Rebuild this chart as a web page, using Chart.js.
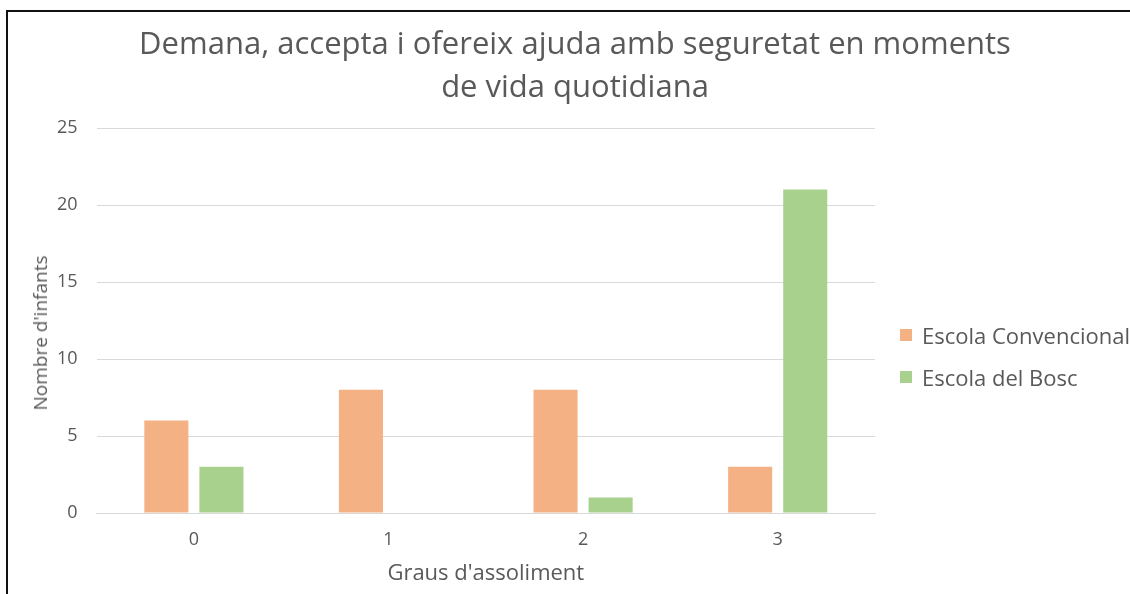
<!DOCTYPE html>
<html>
<head>
<meta charset="utf-8">
<script src="https://cdn.jsdelivr.net/npm/chart.js@4.4.1/dist/chart.umd.min.js"></script>
<style>
  html, body { margin: 0; padding: 0; background: #fff; }
  #wrap { position: relative; width: 1130px; height: 594px; overflow: hidden; }
  #frame { position: absolute; left: 6px; top: 10px; right: -4px; bottom: -4px;
           border-top: 2px solid #111; border-left: 2px solid #111; pointer-events: none; }
  #title { position: absolute; left: 20px; width: 1110px; top: 21px; text-align: center;
           font-family: "Open Sans", sans-serif; font-size: 31px; line-height: 43px; color: #595959; }
  #ytitle { position: absolute; left: 40px; top: 333px; width: 0; height: 0; }
  #ytitle span { position: absolute; transform: translate(-50%, -50%) rotate(-90deg); white-space: nowrap;
                 font-family: "Open Sans", sans-serif; font-size: 19px; line-height: 24px; color: #595959; }
  #legend { position: absolute; left: 900px; top: 314px; font-family: "Open Sans", sans-serif;
            font-size: 22px; color: #595959; }
  #legend div { display: flex; align-items: center; height: 42px; white-space: nowrap; }
  #legend span.box { width: 12px; height: 12px; margin-right: 10px; display: inline-block; }
  canvas { position: absolute; left: 0; top: 0; }
</style>
</head>
<body>
<div id="wrap">
  <canvas id="chart" width="1130" height="594"></canvas>
  <div id="title">Demana, accepta i ofereix ajuda amb seguretat en moments<br>de vida quotidiana</div>
  <div id="ytitle"><span>Nombre d'infants</span></div>
  <div id="legend"></div>
  <div id="frame"></div>
</div>
<script>
// data
const categories = ['0', '1', '2', '3'];
const convencional = [6, 8, 8, 3];
const bosc = [3, 0, 1, 21];
const yTicks = [0, 5, 10, 15, 20, 25];

const TEXT = '#595959';
const GRID = '#D9D9D9';
const ORANGE = '#F4B183';
const GREEN = '#A9D18E';
const FONT = '"Open Sans", sans-serif';

const ctx = document.getElementById('chart').getContext('2d');

const chart = new Chart(ctx, {
  type: 'bar',
  data: {
    labels: categories,
    datasets: [
      { label: 'Escola Convencional', data: convencional, backgroundColor: ORANGE },
      { label: 'Escola del Bosc', data: bosc, backgroundColor: GREEN }
    ]
  },
  options: {
    responsive: false,
    animation: false,
    categoryPercentage: 0.566,
    barPercentage: 0.8,
    layout: { padding: { top: 128, left: 38, right: 255, bottom: 7 } },
    plugins: {
      legend: { display: false },
      tooltip: { enabled: false }
    },
    scales: {
      x: {
        grid: { display: false, drawTicks: false },
        border: { color: GRID },
        ticks: { color: TEXT, font: { family: FONT, size: 18 }, padding: 16 },
        title: {
          display: true,
          text: "Graus d'assoliment",
          color: TEXT,
          font: { family: FONT, size: 22 },
          padding: { top: -6, bottom: 0 }
        }
      },
      y: {
        min: 0,
        max: 25,
        afterBuildTicks: axis => { axis.ticks = yTicks.map(v => ({ value: v })); },
        grid: { color: GRID, drawTicks: false },
        border: { display: false },
        ticks: { color: TEXT, font: { family: FONT, size: 18 }, padding: 19 }
      }
    }
  }
});

// legend built from the chart's datasets
const legend = document.getElementById('legend');
chart.data.datasets.forEach(ds => {
  const row = document.createElement('div');
  row.innerHTML = `<span class="box" style="background:${ds.backgroundColor}"></span>${ds.label}`;
  legend.appendChild(row);
});
</script>
</body>
</html>
